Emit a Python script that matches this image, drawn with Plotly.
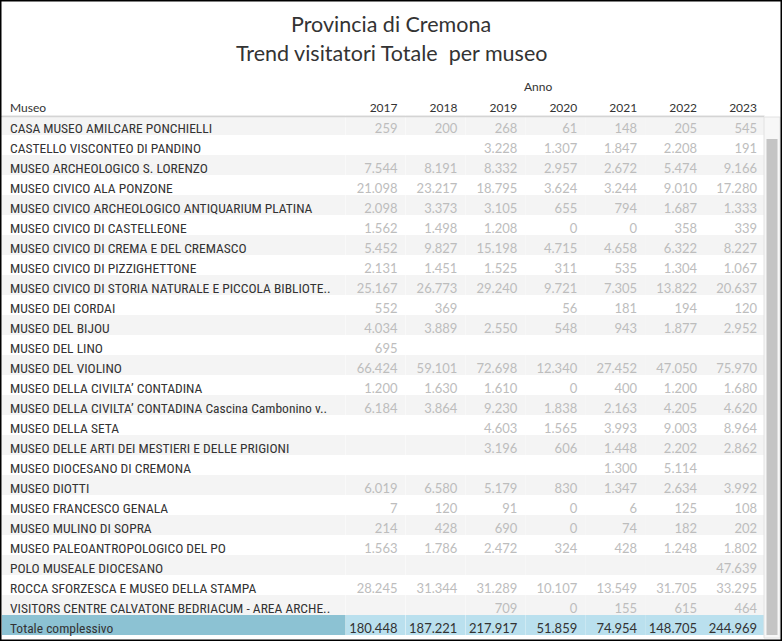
import plotly.graph_objects as go

FIG_WIDTH = 782
FIG_HEIGHT = 641

years = ["2017", "2018", "2019", "2020", "2021", "2022", "2023"]

musei = [
    "CASA MUSEO AMILCARE PONCHIELLI",
    "CASTELLO VISCONTEO DI PANDINO",
    "MUSEO ARCHEOLOGICO S. LORENZO",
    "MUSEO CIVICO ALA PONZONE",
    "MUSEO CIVICO ARCHEOLOGICO ANTIQUARIUM PLATINA",
    "MUSEO CIVICO DI CASTELLEONE",
    "MUSEO CIVICO DI CREMA E DEL CREMASCO",
    "MUSEO CIVICO DI PIZZIGHETTONE",
    "MUSEO CIVICO DI STORIA NATURALE E PICCOLA BIBLIOTE..",
    "MUSEO DEI CORDAI",
    "MUSEO DEL BIJOU",
    "MUSEO DEL LINO",
    "MUSEO DEL VIOLINO",
    "MUSEO DELLA CIVILTA\u2019 CONTADINA",
    "MUSEO DELLA CIVILTA\u2019 CONTADINA Cascina Cambonino v..",
    "MUSEO DELLA SETA",
    "MUSEO DELLE ARTI DEI MESTIERI E DELLE PRIGIONI",
    "MUSEO DIOCESANO DI CREMONA",
    "MUSEO DIOTTI",
    "MUSEO FRANCESCO GENALA",
    "MUSEO MULINO DI SOPRA",
    "MUSEO PALEOANTROPOLOGICO DEL PO",
    "POLO MUSEALE DIOCESANO",
    "ROCCA SFORZESCA E MUSEO DELLA STAMPA",
    "VISITORS CENTRE CALVATONE BEDRIACUM - AREA ARCHE..",
]

# one list per year, same order as musei (None = no data)
v2017 = [259, None, 7544, 21098, 2098, 1562, 5452, 2131, 25167, 552, 4034, 695, 66424,
         1200, 6184, None, None, None, 6019, 7, 214, 1563, None, 28245, None]
v2018 = [200, None, 8191, 23217, 3373, 1498, 9827, 1451, 26773, 369, 3889, None, 59101,
         1630, 3864, None, None, None, 6580, 120, 428, 1786, None, 31344, None]
v2019 = [268, 3228, 8332, 18795, 3105, 1208, 15198, 1525, 29240, None, 2550, None, 72698,
         1610, 9230, 4603, 3196, None, 5179, 91, 690, 2472, None, 31289, 709]
v2020 = [61, 1307, 2957, 3624, 655, 0, 4715, 311, 9721, 56, 548, None, 12340,
         0, 1838, 1565, 606, None, 830, 0, 0, 324, None, 10107, 0]
v2021 = [148, 1847, 2672, 3244, 794, 0, 4658, 535, 7305, 181, 943, None, 27452,
         400, 2163, 3993, 1448, 1300, 1347, 6, 74, 428, None, 13549, 155]
v2022 = [205, 2208, 5474, 9010, 1687, 358, 6322, 1304, 13822, 194, 1877, None, 47050,
         1200, 4205, 9003, 2202, 5114, 2634, 125, 182, 1248, None, 31705, 615]
v2023 = [545, 191, 9166, 17280, 1333, 339, 8227, 1067, 20637, 120, 2952, None, 75970,
         1680, 4620, 8964, 2862, None, 3992, 108, 202, 1802, 47639, 33295, 464]

totale_label = "Totale complessivo"
totali = [180448, 187221, 217917, 51859, 74954, 148705, 244969]

FONT = "Lato, Roboto, sans-serif"
LABEL_FONT = "Liberation Sans Narrow, Roboto Condensed, Roboto, sans-serif"
DARK = "#333333"
LIGHT = "#BDBDBD"
BAND = "#F4F4F4"


def fmt(v):
    """Italian thousands separator"""
    if v is None:
        return ""
    return f"{v:,}".replace(",", ".")


def py(px):
    """pixel row from the top -> paper fraction"""
    return 1 - px / FIG_HEIGHT


def px_(px):
    return px / FIG_WIDTH


def build_table():
    series = [v2017, v2018, v2019, v2020, v2021, v2022, v2023]
    n = len(musei)
    band = [BAND if i % 2 == 0 else "white" for i in range(n)]

    cols = [musei + [totale_label]]
    for s, tot in zip(series, totali):
        cols.append([fmt(v) for v in s] + [fmt(tot)])

    fills = [band + ["#8CC2D3"]] + [band + ["#BAE0EE"]] * len(series)
    colors = [[DARK] * (n + 1)] + [[LIGHT] * n + [DARK]] * len(series)

    return go.Table(
        domain=dict(x=[px_(2), px_(765)], y=[0.0, py(95)]),
        columnwidth=[344] + [60] * len(series),
        header=dict(
            values=["Museo"] + years,
            align=["left"] + ["right"] * len(series),
            fill_color="white",
            line=dict(width=0, color="white"),
            font=dict(family=FONT, size=12, color=DARK),
            height=20,
        ),
        cells=dict(
            values=cols,
            align=["left"] + ["right"] * len(series),
            fill_color=fills,
            line=dict(width=0, color="white"),
            font=dict(family=[LABEL_FONT] + [FONT] * len(series),
                      size=[13.5] + [13] * len(series), color=colors),
            height=20,
        ),
    )


def main():
    fig = go.Figure(build_table())
    title_font = dict(size=21.5, color=DARK, family=FONT)
    fig.update_layout(
        width=FIG_WIDTH, height=FIG_HEIGHT,
        margin=dict(l=0, r=0, t=0, b=0),
        paper_bgcolor="white",
        font=dict(family=FONT, color=DARK),
        annotations=[
            dict(text="Provincia di Cremona", x=0.5, y=py(24), yanchor="middle",
                 xref="paper", yref="paper", showarrow=False, font=title_font),
            dict(text="Trend visitatori Totale  per museo", x=0.5, y=py(53), yanchor="middle",
                 xref="paper", yref="paper", showarrow=False, font=title_font),
            dict(text="Anno", x=px_(554), y=py(87), yanchor="middle",
                 xref="paper", yref="paper", showarrow=False,
                 font=dict(size=12, color=DARK, family=FONT)),
        ],
        shapes=[
            # header underline
            dict(type="line", xref="paper", yref="paper", x0=0, x1=px_(764),
                 y0=py(116.5), y1=py(116.5), line=dict(color="#D4D4D4", width=1.5)),
            # scrollbar track and thumb
            dict(type="rect", xref="paper", yref="paper", x0=px_(764), x1=px_(780),
                 y0=py(638), y1=py(117), fillcolor="#F7F7F7", line=dict(color="#E2E2E2", width=1)),
            dict(type="rect", xref="paper", yref="paper", x0=px_(766.5), x1=px_(777.5),
                 y0=py(635), y1=py(139), fillcolor="#C4C4C4", line=dict(width=0)),
            # outer frame
            dict(type="rect", xref="paper", yref="paper", x0=0, x1=1, y0=0, y1=1,
                 line=dict(color="black", width=3)),
        ],
    )
    fig.write_html("out.html", config={"displayModeBar": False},
                   post_script="document.body.style.margin='0';")


if __name__ == "__main__":
    main()
